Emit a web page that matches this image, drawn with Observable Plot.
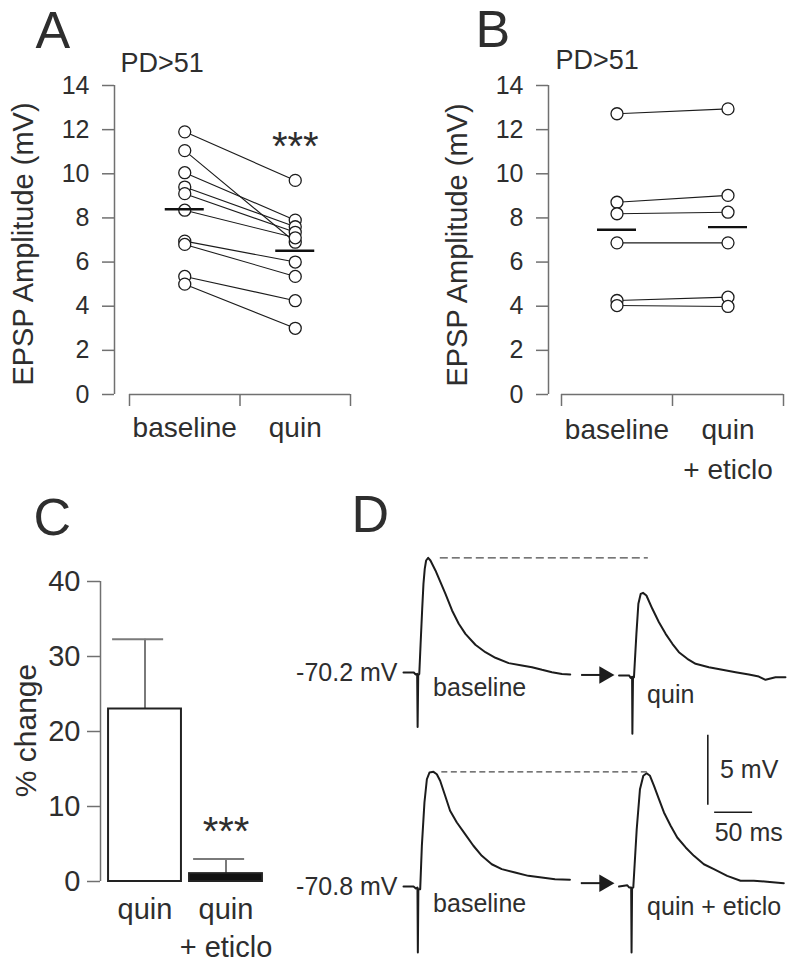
<!DOCTYPE html>
<html><head><meta charset="utf-8">
<script src="https://cdn.jsdelivr.net/npm/d3@7"></script>
<script src="https://cdn.jsdelivr.net/npm/@observablehq/plot@0.6"></script>
<style>
html,body{margin:0;padding:0;background:#fff;}
#fig{position:relative;width:800px;height:967px;overflow:hidden;background:#fff;}
</style></head><body><div id="fig"></div>
<script>
// ================= DATA =================
// Panel A (PD>51): paired EPSP amplitudes (mV)
const pairCatsA = ["baseline", "quin"];
const ampA_baseline = [11.9, 11.05, 10.05, 9.4, 9.1, 8.35, 6.95, 6.8, 5.35, 5.0];
const ampA_quin     = [9.7, 6.9, 7.9, 7.6, 7.35, 7.1, 6.0, 5.35, 4.25, 3.0];
// Panel B (PD>51)
const pairCatsB = ["baseline", "quin\n+ eticlo"];
const ampB_baseline = [12.72, 8.71, 8.19, 6.87, 4.26, 4.03];
const ampB_quinEticlo = [12.94, 9.02, 8.26, 6.87, 4.41, 3.99];
const ampTicks = [0, 2, 4, 6, 8, 10, 12, 14];
// Panel C: % change
const changeCats = ["quin", "quin\n+ eticlo"];
const changeMean = [23.0, 1.05];
const changeSem  = [9.3, 1.95];
const changeTicks = [0, 10, 20, 30, 40];
// Panel D: example traces [ms from sweep start, mV relative to rest]
const traceTopBaseline = [[0,0],[13.6,0],[15.8,-0.14],[18.0,-0.1],[18.6,-3.9],[19.4,-0.2],[20.8,-0.1],[22.5,2.0],[24.6,4.5],[26.3,6.33],[28.0,7.4],[29.8,8.0],[32.5,8.19],[35.5,8.0],[42.1,7.29],[48.7,6.45],[55.3,5.62],[64.0,4.43],[72.8,3.48],[81.6,2.76],[94.7,1.98],[107.9,1.45],[121.1,1.05],[138.6,0.67],[156.1,0.5],[169.3,0.38],[182.5,0.19],[195.6,0.02],[208.8,-0.1],[219.7,-0.14]];
const traceTopQuin = [[0,-0.21],[13.2,-0.21],[15.4,-0.38],[17.2,-0.3],[17.6,-4.38],[18.4,-0.4],[19.7,-0.34],[22.9,2.76],[25.5,4.91],[28.6,5.62],[31.6,5.69],[36.1,5.5],[43.9,4.55],[52.6,3.59],[61.4,2.76],[70.3,2.05],[78.9,1.45],[90.0,0.98],[100.9,0.62],[118.4,0.38],[136.1,0.19],[153.6,0.02],[171.1,-0.14],[184.2,-0.29],[193.0,-0.52],[206.2,-0.34],[219.3,-0.34]];
const traceBotBaseline = [[0,0],[13.2,0],[16.3,-0.14],[18.4,-0.07],[18.9,-4.71],[19.6,-0.2],[22.0,-0.19],[24.2,2.91],[27.6,6.0],[30.8,7.66],[34.2,8.14],[39.5,8.19],[43.9,8.02],[48.3,7.55],[54.9,6.48],[61.4,5.41],[70.3,4.57],[81.2,3.74],[92.1,2.91],[103.2,2.19],[116.3,1.59],[129.5,1.24],[147.0,1.0],[164.5,0.76],[182.1,0.64],[199.6,0.52],[219.3,0.48]];
const traceBotQuinEticlo = [[0,0],[10.9,0.09],[13.2,-0.07],[16.0,-0.07],[16.5,-4.71],[17.2,-0.1],[18.8,-0.07],[23.3,4.09],[27.6,6.95],[32.0,7.91],[36.4,8.09],[40.8,7.91],[46.1,7.19],[52.6,6.24],[59.2,5.29],[68.0,4.34],[76.7,3.5],[87.8,2.79],[98.7,2.19],[111.8,1.59],[125.0,1.24],[142.5,0.76],[160.1,0.41],[177.6,0.41],[195.1,0.34],[217.1,0.24]];
const restLabels = ["-70.2 mV", "-70.8 mV"];
const traceLabelsTop = ["baseline", "quin"];
const traceLabelsBot = ["baseline", "quin + eticlo"];
const scaleBar = {mV: 5, ms: 50};

// ================= STYLE / LAYOUT =================
const FONT = '"Liberation Sans", Arial, Helvetica, sans-serif';
const TEXT = "#2e2e2e", AXIS = "#707070", INK = "#1c1c1c";
const fig = document.getElementById("fig");
function place(svg, left, top) {
  svg.style.position = "absolute";
  svg.style.left = left + "px";
  svg.style.top = top + "px";
  svg.style.background = "transparent";
  svg.style.overflow = "visible";
  svg.style.maxWidth = "none";
  svg.style.fontFamily = FONT;
  fig.appendChild(svg);
}
const label = (s, opts) => Plot.text([s], {text: d => d, fill: TEXT, ...opts});

// ---------- paired panels A & B ----------
function pairedPanel(cfg) {
  const {width, height, mLeft, mRight, mTop, mBottom, gap, v0, v1, cats} = cfg;
  const unit = (width - mRight - mLeft - gap) / 2;
  const x0 = 0.5 - gap / unit;
  const rows = v0.flatMap((a, i) => [{id: i, x: 1, y: a}, {id: i, x: 2, y: v1[i]}]);
  const means = [{x: 1, y: d3.mean(v0)}, {x: 2, y: d3.mean(v1)}];
  const half = 19.5 / unit;
  const yMin = d3.min(ampTicks), yMax = d3.max(ampTicks);
  const marks = [
    Plot.ruleX([x0], {x: d => d, y1: () => yMin, y2: () => yMax, stroke: AXIS, strokeWidth: 1.5}),
    Plot.axisY({ticks: ampTicks, tickSize: 12, tickPadding: 13, fontSize: 25, stroke: AXIS, strokeWidth: 1.5, fill: TEXT, label: null}),
    Plot.ruleY([yMin], {y: d => d, x1: () => 0.5, x2: () => 2.5, stroke: AXIS, strokeWidth: 1.5}),
    Plot.axisX({ticks: [0.5, 1.5, 2.5], tickSize: 12, tickFormat: () => "", stroke: AXIS, strokeWidth: 1.5, label: null}),
    Plot.axisX({ticks: [1, 2], tickSize: 0, tickPadding: cfg.catPad, tickFormat: d => cats[d - 1], fontSize: 28, fill: TEXT, lineHeight: 1.4, label: null}),
    Plot.line(rows, {x: "x", y: "y", z: "id", stroke: INK, strokeWidth: 1.1}),
    Plot.dot(rows, {x: "x", y: "y", r: 6, stroke: INK, fill: "white", strokeWidth: 1.3}),
    Plot.ruleY(means, {y: "y", x1: d => d.x - half, x2: d => d.x + half, stroke: "#111", strokeWidth: 2.4}),
    label(cfg.letter, {frameAnchor: "top-left", dx: cfg.letterDx, dy: cfg.letterDy, fontSize: 52, textAnchor: "start", lineAnchor: "top"}),
    label("PD>51", {frameAnchor: "top-left", dx: cfg.titleDx, dy: cfg.titleDy, fontSize: 27, textAnchor: "start", lineAnchor: "top"}),
    label("EPSP Amplitude (mV)", {frameAnchor: "left", rotate: -90, textAnchor: "middle", lineAnchor: "middle", dx: cfg.yTitleDx, dy: cfg.yTitleDy, fontSize: 29})
  ];
  if (cfg.stars) marks.push(label("***", {x: () => 2, y: () => cfg.starsY, fontSize: 40}));
  return Plot.plot({
    width, height, marginLeft: mLeft, marginRight: mRight, marginTop: mTop, marginBottom: mBottom,
    x: {type: "linear", domain: [x0, 2.5], axis: null, label: null},
    y: {domain: [yMin, yMax], label: null},
    marks
  });
}

place(pairedPanel({width: 400, height: 470, mLeft: 114, mRight: 50, mTop: 85, mBottom: 76, gap: 15,
  v0: ampA_baseline, v1: ampA_quin, cats: pairCatsA, catPad: 15,
  letter: "A", letterDx: -79, letterDy: -74, titleDx: 6, titleDy: -33, yTitleDx: -91, yTitleDy: 4,
  stars: true, starsY: 11.2}), 0, 0);

place(pairedPanel({width: 400, height: 520, mLeft: 148, mRight: 17, mTop: 85, mBottom: 126, gap: 13,
  v0: ampB_baseline, v1: ampB_quinEticlo, cats: pairCatsB, catPad: 17,
  letter: "B", letterDx: -73, letterDy: -75, titleDx: 7, titleDy: -36, yTitleDx: -91, yTitleDy: 5,
  stars: false}), 400, 0);

// ---------- panel C ----------
(function () {
  const width = 300, height = 477, mLeft = 100, mRight = 34, mTop = 91, mBottom = 86;
  const unit = 81, x0 = 1 - 44.5 / unit;
  const bars = changeMean.map((m, i) => ({x: i + 1, mean: m, top: m + changeSem[i], fill: i === 0 ? "white" : "#111"}));
  const yMin = d3.min(changeTicks), yMax = d3.max(changeTicks);
  const svg = Plot.plot({
    width, height, marginLeft: mLeft, marginRight: mRight, marginTop: mTop, marginBottom: mBottom,
    x: {type: "linear", domain: [x0, 2.5], axis: null, label: null},
    y: {domain: [yMin, yMax], label: null},
    marks: [
      Plot.ruleX([x0], {x: d => d, y1: () => yMin, y2: () => yMax, stroke: AXIS, strokeWidth: 1.5}),
      Plot.axisY({ticks: changeTicks, tickSize: 13, tickPadding: 7, fontSize: 29, stroke: AXIS, strokeWidth: 1.5, fill: TEXT, label: null}),
      Plot.axisX({ticks: [1, 2], tickSize: 0, tickPadding: 11, tickFormat: d => changeCats[d - 1], fontSize: 29, fill: TEXT, lineHeight: 1.3, label: null}),
      Plot.ruleX(bars, {x: "x", y1: "mean", y2: "top", stroke: "#7a7a7a", strokeWidth: 2}),
      Plot.ruleY(bars, {y: "top", x1: d => d.x - 0.4, x2: d => d.x + 0.23, stroke: "#7a7a7a", strokeWidth: 2}),
      Plot.rectY(bars, {x1: d => d.x - 0.45, x2: d => d.x + 0.45, y1: () => 0, y2: "mean", fill: "fill", stroke: "#222", strokeWidth: 2}),
      label("***", {x: () => 2, y: () => 6.6, fontSize: 40}),
      label("C", {frameAnchor: "top-left", dx: -67, dy: -83, fontSize: 52, textAnchor: "start", lineAnchor: "top"}),
      label("% change", {frameAnchor: "left", rotate: -90, textAnchor: "middle", lineAnchor: "middle", dx: -74, dy: -1, fontSize: 30})
    ]
  });
  place(svg, 0, 490);
})();

// ---------- panel D ----------
const sweepOffset = 284; // ms between the two displayed sweeps
function tracePanel(cfg) {
  const {base, drug, yDomain, height, mTop, mBottom, rest, labels} = cfg;
  const pkBase = d3.greatest(base, d => d[1]);
  const pkDrug = d3.greatest(drug, d => d[1]);
  const arrowY = (base[base.length - 1][1] + drug[0][1]) / 2;
  const tipX = sweepOffset - 7.3;
  const marks = [
    Plot.line(base, {x: d => d[0], y: d => d[1], stroke: INK, strokeWidth: 2}),
    Plot.line(drug, {x: d => d[0] + sweepOffset, y: d => d[1], stroke: INK, strokeWidth: 2}),
    Plot.ruleY([pkBase[1]], {y: d => d, x1: () => pkBase[0] + cfg.dashStart, x2: () => sweepOffset + pkDrug[0] + cfg.dashEnd, stroke: "#4a4a4a", strokeWidth: 1.3, strokeDasharray: cfg.dash}),
    Plot.ruleY([arrowY], {y: d => d, x1: () => base[base.length - 1][0] + 15, x2: () => tipX - 12, stroke: INK, strokeWidth: 2}),
    Plot.dot([arrowY], {x: () => tipX - 12, y: d => d, symbol: "triangle", rotate: 90, r: 6.5, fill: INK, stroke: "none"}),
    label(rest, {x: () => 0, y: () => 0, dx: -6, textAnchor: "end", fontSize: 25}),
    label(labels[0], {x: () => 39, y: () => cfg.lab0Y, textAnchor: "start", lineAnchor: "top", fontSize: 25}),
    label(labels[1], {x: () => sweepOffset + cfg.lab1X, y: () => cfg.lab1Y, textAnchor: "start", lineAnchor: "top", fontSize: 25})
  ];
  if (cfg.scaleBars) {
    const sx = 401, sy = 5.8;
    marks.push(
      Plot.ruleX([sx], {x: d => d, y1: () => sy, y2: () => sy + scaleBar.mV, stroke: INK, strokeWidth: 1.6}),
      Plot.ruleY([sy - 0.5], {y: d => d, x1: () => sx + 9, x2: () => sx + 9 + scaleBar.ms, stroke: INK, strokeWidth: 1.6}),
      label(`${scaleBar.mV} mV`, {x: () => sx + 16, y: () => sy + 3.2, textAnchor: "start", lineAnchor: "top", fontSize: 25}),
      label(`${scaleBar.ms} ms`, {x: () => sx + 9, y: () => sy - 1.3, textAnchor: "start", lineAnchor: "top", fontSize: 25})
    );
  }
  if (cfg.letter) marks.push(label("D", {frameAnchor: "top-left", dx: -52, dy: -51, fontSize: 52, textAnchor: "start", lineAnchor: "top"}));
  return Plot.plot({
    width: 510, height, marginLeft: 113, marginRight: 13, marginTop: mTop, marginBottom: mBottom,
    x: {domain: [0, 506], axis: null},
    y: {domain: yDomain, axis: null},
    marks
  });
}
place(tracePanel({base: traceTopBaseline, drug: traceTopQuin, yDomain: [-5, 9], height: 215, mTop: 16, mBottom: 3,
  rest: restLabels[0], labels: traceLabelsTop, lab0Y: -0.43, lab1X: 37, lab1Y: -0.93,
  dashStart: 16, dashEnd: 7, dash: "8,4", letter: true}), 290, 530);
place(tracePanel({base: traceBotBaseline, drug: traceBotQuinEticlo, yDomain: [-5, 10], height: 242, mTop: 21, mBottom: 11,
  rest: restLabels[1], labels: traceLabelsBot, lab0Y: -0.57, lab1X: 37, lab1Y: -0.79,
  dashStart: 11, dashEnd: 4, dash: "6,3.5", scaleBars: true}), 290, 725);
</script></body></html>
